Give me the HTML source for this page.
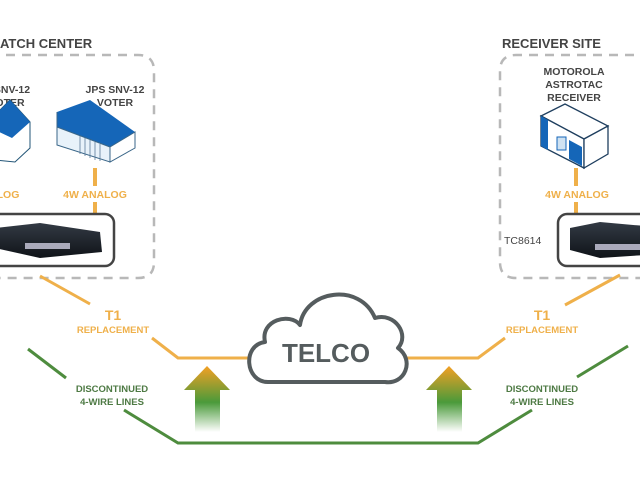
<!DOCTYPE html>
<html><head><meta charset="utf-8"><style>
html,body{margin:0;padding:0;background:#fff;}
svg{display:block;font-family:"Liberation Sans",sans-serif;}
</style></head><body>
<svg width="640" height="480" viewBox="0 0 640 480" xmlns="http://www.w3.org/2000/svg">
<defs>
<linearGradient id="ar" x1="0" y1="0" x2="0" y2="1">
<stop offset="0" stop-color="#f4a024"/><stop offset="0.55" stop-color="#4a9a3a"/><stop offset="1" stop-color="#4a9a3a" stop-opacity="0"/>
</linearGradient>
<linearGradient id="dev" x1="0" y1="0" x2="0" y2="1">
<stop offset="0" stop-color="#333a44"/><stop offset="1" stop-color="#0f1318"/>
</linearGradient>
</defs>
<rect width="640" height="480" fill="#fff"/>
<!-- dashed site boxes -->
<path d="M-10 55 H138 Q154 55 154 71 V262 Q154 278 138 278 H-10" fill="none" stroke="#b8b8b8" stroke-width="2.5" stroke-dasharray="9 7"/>
<path d="M650 55 H516 Q500 55 500 71 V262 Q500 278 516 278 H650" fill="none" stroke="#b8b8b8" stroke-width="2.5" stroke-dasharray="9 7"/>
<text x="0" y="48" font-size="13" font-weight="bold" fill="#444">ATCH CENTER</text>
<text x="502" y="48" font-size="13" font-weight="bold" fill="#444">RECEIVER SITE</text>
<!-- voter labels -->
<g font-size="10.5" font-weight="bold" fill="#444" text-anchor="middle">
<text x="12" y="93">SNV-12</text><text x="10" y="106">OTER</text>
<text x="115" y="93">JPS SNV-12</text><text x="115" y="106">VOTER</text>
<text x="574" y="75">MOTOROLA</text><text x="574" y="88">ASTROTAC</text><text x="574" y="101">RECEIVER</text>
</g>
<!-- voter devices -->
<polygon points="-5,115 10,100 30,122 30,148 15,162 -5,160" fill="#fff" stroke="#225577" stroke-width="1"/>
<polygon points="-5,115 10,100 30,122 12,138 -5,130" fill="#1566b8"/>
<polygon points="57,112 90,100 135,132 110,147 57,127" fill="#1566b8"/>
<polygon points="57,112 57,127 110,147 110,162 57,145" fill="#e8f2fa" stroke="#3a6688" stroke-width="1"/>
<polygon points="110,147 135,132 135,148 110,162" fill="#fff" stroke="#3a6688" stroke-width="1"/>
<g stroke="#5a7a99" stroke-width="0.8"><line x1="80" y1="136" x2="80" y2="154"/><line x1="85" y1="138" x2="85" y2="156"/><line x1="90" y1="140" x2="90" y2="158"/><line x1="95" y1="142" x2="95" y2="160"/><line x1="100" y1="144" x2="100" y2="161"/></g>
<!-- receiver -->
<polygon points="541,116 565,104 608,126 584,139" fill="#fff" stroke="#1f3f5f" stroke-width="1.3"/>
<polygon points="541,116 584,139 584,168 541,146" fill="#fff" stroke="#1f3f5f" stroke-width="1.3"/>
<polygon points="584,139 608,126 608,154 584,168" fill="#fff" stroke="#1f3f5f" stroke-width="1.3"/>
<polygon points="541,116 548,120 548,150 541,146" fill="#1566b8"/>
<rect x="557" y="137" width="9" height="13" fill="#cfe2f2" stroke="#1566b8"/>
<polygon points="569,140 582,147 582,166 569,159" fill="#1566b8"/>
<!-- vertical analog links -->
<g stroke="#efb04a" stroke-width="4">
<line x1="95" y1="168" x2="95" y2="186"/><line x1="95" y1="202" x2="95" y2="213"/>
<line x1="576" y1="168" x2="576" y2="186"/><line x1="576" y1="202" x2="576" y2="213"/>
</g>
<g font-size="10.5" font-weight="bold" fill="#efb04a" text-anchor="middle">
<text x="8" y="198">LOG</text><text x="95" y="198">4W ANALOG</text><text x="577" y="198">4W ANALOG</text>
</g>
<!-- device boxes -->
<rect x="-12" y="214" width="126" height="52" rx="9" fill="#fff" stroke="#444" stroke-width="2.5"/>
<rect x="558" y="214" width="95" height="52" rx="9" fill="#fff" stroke="#444" stroke-width="2.5"/>
<polygon points="-5,228 40,223 100,232 102,252 40,258 -5,248" fill="url(#dev)"/>
<polygon points="570,228 600,222 645,226 645,255 600,258 570,250" fill="url(#dev)"/>
<g fill="#aab" ><rect x="25" y="243" width="45" height="6"/><rect x="595" y="244" width="45" height="6"/></g>
<text x="504" y="244" font-size="10.5" fill="#444">TC8614</text>
<!-- orange T1 lines -->
<g stroke="#efb04a" stroke-width="3" fill="none">
<polyline points="40,276 90,304"/>
<polyline points="152,338 178,358 250,358"/>
<polyline points="406,358 478,358 505,338"/>
<polyline points="565,305 620,275"/>
</g>
<g font-weight="bold" fill="#efb04a" text-anchor="middle">
<text x="113" y="320" font-size="14">T1</text><text x="113" y="333" font-size="9.5">REPLACEMENT</text>
<text x="542" y="320" font-size="14">T1</text><text x="542" y="333" font-size="9.5">REPLACEMENT</text>
</g>
<!-- green lines -->
<g stroke="#4e8c3e" stroke-width="3" fill="none">
<polyline points="28,349 66,378"/>
<polyline points="124,410 178,443 478,443 532,410"/>
<polyline points="577,377 628,346"/>
</g>
<g font-size="9.5" font-weight="bold" fill="#4e7a44" text-anchor="middle">
<text x="112" y="392">DISCONTINUED</text><text x="112" y="405">4-WIRE LINES</text>
<text x="542" y="392">DISCONTINUED</text><text x="542" y="405">4-WIRE LINES</text>
</g>
<!-- arrows -->
<polygon points="207,366 230,390 220,390 220,432 195,432 195,390 184,390" fill="url(#ar)"/>
<polygon points="449,366 472,390 462,390 462,432 437,432 437,390 426,390" fill="url(#ar)"/>
<!-- cloud -->
<path d="M268,382 C245,382 242,345 265,342 C260,320 290,312 300,325 C305,290 360,282 375,318 C395,312 410,335 398,348 C415,360 405,385 385,382 Z" fill="#fff" stroke="#555c5e" stroke-width="4" stroke-linejoin="round"/>
<text x="326" y="362" font-size="26" font-weight="bold" fill="#555c5e" text-anchor="middle">TELCO</text>
</svg>
</body></html>
